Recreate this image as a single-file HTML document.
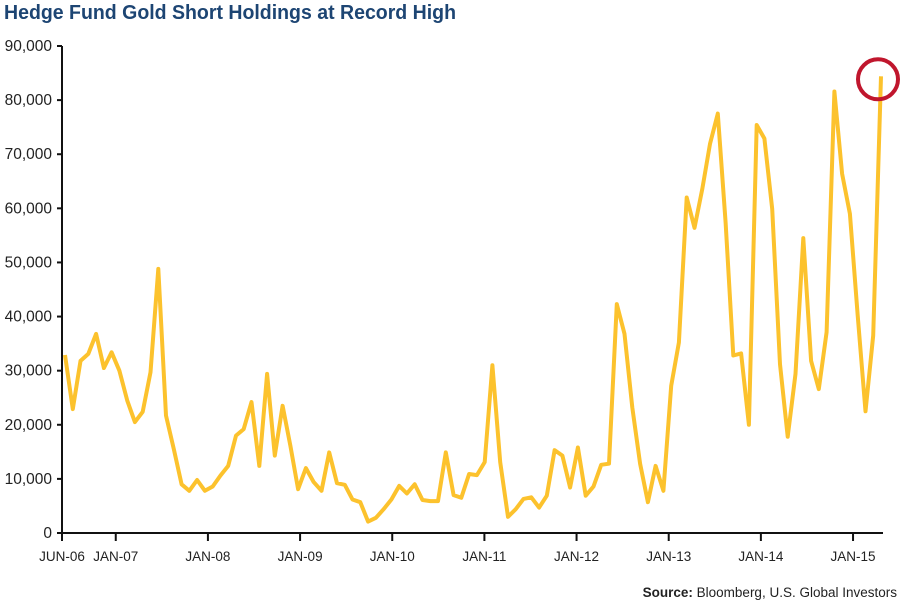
<!DOCTYPE html>
<html><head><meta charset="utf-8"><style>
body{margin:0;background:#fff;}
svg{display:block;font-family:"Liberation Sans",sans-serif;}
</style></head><body>
<svg id="chart" width="900" height="605" viewBox="0 0 900 605">
<text x="4" y="19" font-size="20" font-weight="bold" fill="#1d4573" textLength="452" lengthAdjust="spacingAndGlyphs">Hedge Fund Gold Short Holdings at Record High</text>
<g id="axes"></g>
<path id="line" fill="none" stroke="#fcc22d" stroke-width="4" stroke-linejoin="round"/>
<circle id="hl" r="20" fill="none" stroke="#c0162d" stroke-width="4"/>
<text x="897" y="597" font-size="13.5" text-anchor="end" fill="#222"><tspan font-weight="bold">Source:</tspan> Bloomberg, U.S. Global Investors</text>
</svg>
<script>
const values=[32.9,22.9,31.8,33.1,36.8,30.5,33.4,30,24.5,20.5,22.4,29.7,48.8,21.7,15.5,9,7.8,9.8,7.8,8.6,10.6,12.4,18,19.2,24.2,12.4,29.4,14.3,23.5,16.1,8.1,12,9.4,7.8,14.9,9.2,8.9,6.2,5.7,2.1,2.8,4.4,6.2,8.7,7.3,9,6.1,5.9,5.9,14.9,7,6.5,10.9,10.7,13.1,31,13.1,3,4.4,6.3,6.6,4.7,6.9,15.3,14.3,8.4,15.8,6.9,8.6,12.6,12.8,42.3,36.8,23.2,12.8,5.7,12.4,7.8,27.2,35.2,62,56.4,63.6,71.9,77.5,57.4,32.8,33.2,20,75.4,72.9,59.9,31.2,17.8,29.4,54.5,31.8,26.6,37.1,81.6,66.4,59,40.2,22.5,36.5,84.4];
const yTicks=[0,10000,20000,30000,40000,50000,60000,70000,80000,90000];
const xTickLabels=["JUN-06","JAN-07","JAN-08","JAN-09","JAN-10","JAN-11","JAN-12","JAN-13","JAN-14","JAN-15"];
const xTickMonths=[0,7,19,31,43,55,67,79,91,103];
const NS="http://www.w3.org/2000/svg";
const y=v=>533-v/90000*487;
const xi=i=>65+i*(816/(values.length-1));
const xm=m=>62+m*7.68;
const ax=document.getElementById('axes');
function mk(t,a,p){const e=document.createElementNS(NS,t);for(const k in a)e.setAttribute(k,a[k]);(p||ax).appendChild(e);return e;}
let e=mk('line',{x1:62,y1:y(90000),x2:62,y2:534,stroke:'#111','stroke-width':2});


e=mk('line',{x1:57,y1:533,x2:883,y2:533,stroke:'#111','stroke-width':2});


yTicks.forEach(v=>{
 const t=mk('line',{x1:57,y1:y(v),x2:62,y2:y(v),stroke:'#111','stroke-width':2});
 
 
 const l=mk('text',{x:52,y:y(v)+5,'font-size':15.5,'text-anchor':'end',fill:'#222'});
 l.textContent=v.toLocaleString('en-US');
 
 
});
xTickMonths.forEach((m,i)=>{
 const t=mk('line',{x1:xm(m),y1:533,x2:xm(m),y2:541,stroke:'#111','stroke-width':2});
 
 
 const l=mk('text',{x:xm(m),y:561,'font-size':13.5,'text-anchor':'middle',fill:'#222'});
 l.textContent=xTickLabels[i];
 
 
});
document.getElementById('line').setAttribute('d',values.map((v,i)=>(i?'L':'M')+xi(i).toFixed(1)+','+y(v*1000).toFixed(1)).join(''));
const last=values.length-1;
const c=document.getElementById('hl');
c.setAttribute('cx',xi(last)-3);c.setAttribute('cy',y(values[last]*1000)+3);
</script>
</body></html>
